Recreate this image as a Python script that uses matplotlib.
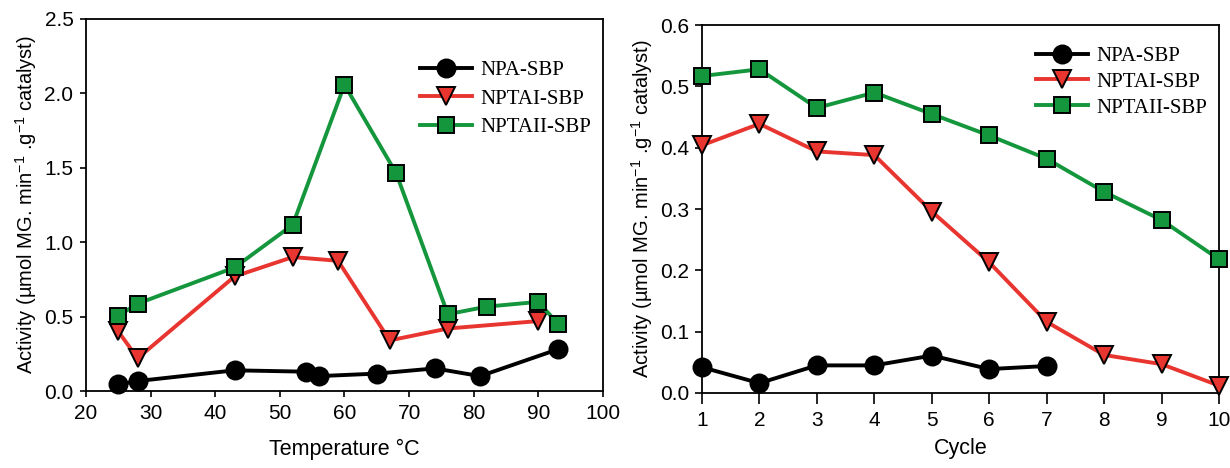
import matplotlib
matplotlib.use('Agg')
import matplotlib.pyplot as plt

# temperature panel
temp_npa = [25, 28, 43, 54, 56, 65, 74, 81, 93]
act_npa = [0.045, 0.067, 0.139, 0.13, 0.10, 0.117, 0.152, 0.10, 0.28]
temp_ptai = [25, 28, 43, 52, 59, 67, 76, 90]
act_ptai = [0.40, 0.22, 0.77, 0.90, 0.875, 0.34, 0.42, 0.47]
temp_ptaii = [25, 28, 43, 52, 60, 68, 76, 82, 90, 93]
act_ptaii = [0.505, 0.587, 0.83, 1.117, 2.058, 1.464, 0.516, 0.567, 0.599, 0.453]

# reuse (cycle) panel
cycle_npa = [1, 2, 3, 4, 5, 6, 7]
reuse_npa = [0.042, 0.016, 0.045, 0.045, 0.061, 0.039, 0.044]
cycle_all = [1, 2, 3, 4, 5, 6, 7, 8, 9, 10]
reuse_ptai = [0.404, 0.439, 0.394, 0.388, 0.296, 0.213, 0.116, 0.062, 0.047, 0.012]
reuse_ptaii = [0.517, 0.528, 0.465, 0.49, 0.455, 0.42, 0.382, 0.328, 0.282, 0.218]

names = ['NPA-SBP', 'NPTAI-SBP', 'NPTAII-SBP']

plt.rcParams['font.family'] = ['Liberation Sans', 'DejaVu Sans']
plt.rcParams['mathtext.default'] = 'regular'

GREEN = '#14963c'
RED = '#e8352f'
ylab = r'Activity (µmol MG. min$^{-1}$ .g$^{-1}$ catalyst)'

fig = plt.figure(figsize=(12.3, 4.68), dpi=100)
ax1 = fig.add_axes([0.0699, 0.1645, 0.4203, 0.795])
ax2 = fig.add_axes([0.5707, 0.1603, 0.4204, 0.786])

def draw(ax, xs):
    styles = [('o', 'black', 13), ('v', RED, 12.5), ('s', GREEN, 11)]
    for (x, y), (m, c, ms), name in zip(xs, styles, names):
        ax.plot(x, y, color=c, lw=2.8, marker=m, markersize=ms, markerfacecolor=c,
                markeredgecolor='black', markeredgewidth=1.4, label=name, clip_on=False, zorder=3)

draw(ax1, [(temp_npa, act_npa), (temp_ptai, act_ptai), (temp_ptaii, act_ptaii)])
draw(ax2, [(cycle_npa, reuse_npa), (cycle_all, reuse_ptai), (cycle_all, reuse_ptaii)])

ax1.set_xlim(20, 100)
ax1.set_ylim(0, 2.5)
ax1.set_xticks(range(20, 101, 10))
ax1.set_yticks([0.0, 0.5, 1.0, 1.5, 2.0, 2.5])
ax1.set_yticklabels(['0.0', '0.5', '1.0', '1.5', '2.0', '2.5'])
ax1.set_xlabel('Temperature °C', fontsize=15.5, labelpad=12)
ax1.set_ylabel(ylab, fontsize=14.5, labelpad=4)
ax1.tick_params(axis='both', direction='out', length=4, width=1.2, labelsize=15, pad=5)

ax2.set_xlim(1, 10)
ax2.set_ylim(0, 0.6)
ax2.set_xticks(cycle_all)
ax2.set_yticks([0.0, 0.1, 0.2, 0.3, 0.4, 0.5, 0.6])
ax2.set_yticklabels(['0.0', '0.1', '0.2', '0.3', '0.4', '0.5', '0.6'])
ax2.set_xlabel('Cycle', fontsize=15.5, labelpad=6)
ax2.set_ylabel(ylab, fontsize=14.5, labelpad=4)
ax2.tick_params(axis='x', direction='out', length=8, width=1.2, labelsize=15, pad=5)
ax2.tick_params(axis='y', direction='out', length=5, width=1.2, labelsize=15, pad=4)

for ax in (ax1, ax2):
    for sp in ax.spines.values():
        sp.set_linewidth(1.3)
    ax.tick_params(top=False, right=False)

leg_font = {'family': 'Liberation Serif', 'size': 15}
ax1.legend(loc='upper left', bbox_to_anchor=(0.63, 0.91), frameon=False, prop=leg_font,
           numpoints=1, handlelength=2.5, handletextpad=0.4, labelspacing=0.42, borderaxespad=0)
ax2.legend(loc='upper left', bbox_to_anchor=(0.63, 0.965), frameon=False, prop=leg_font,
           numpoints=1, handlelength=2.5, handletextpad=0.4, labelspacing=0.3, borderaxespad=0)

fig.savefig('out.png', dpi=100)
